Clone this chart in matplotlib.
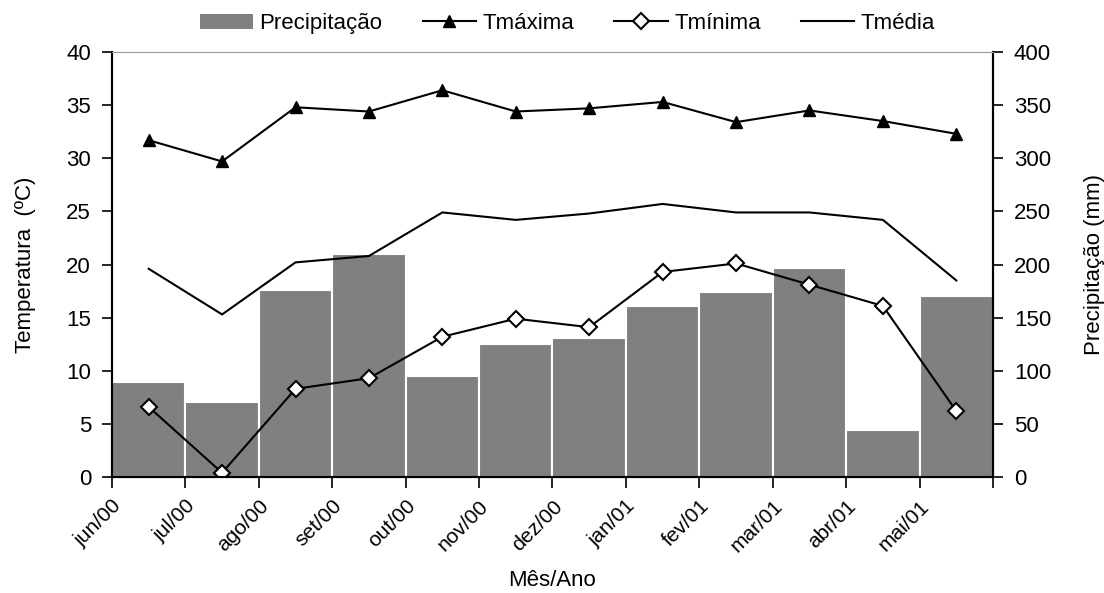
import matplotlib
matplotlib.use('Agg')
import matplotlib.pyplot as plt
from matplotlib.patches import Patch
from matplotlib.lines import Line2D

plt.rcParams['font.family'] = ['Liberation Sans', 'DejaVu Sans']

meses = ['jun/00', 'jul/00', 'ago/00', 'set/00', 'out/00', 'nov/00',
         'dez/00', 'jan/01', 'fev/01', 'mar/01', 'abr/01', 'mai/01']
precipitacao = [89, 71, 176, 210, 95, 125, 131, 161, 174, 197, 44, 170]
tmax = [31.7, 29.7, 34.8, 34.4, 36.4, 34.4, 34.7, 35.3, 33.4, 34.5, 33.5, 32.3]
tmin = [6.6, 0.4, 8.3, 9.3, 13.2, 14.9, 14.1, 19.3, 20.1, 18.1, 16.1, 6.2]
tmed = [19.6, 15.3, 20.2, 20.8, 24.9, 24.2, 24.8, 25.7, 24.9, 24.9, 24.2, 18.5]

x = [i + 0.5 for i in range(len(meses))]

fig = plt.figure(figsize=(11.04, 5.93), dpi=100)
ax = fig.add_axes([0.1014, 0.1956, 0.7981, 0.7167])
ax2 = ax.twinx()

# barras de precipitacao no eixo da direita, atras das linhas
ax2.bar(x, precipitacao, width=1.0, color='#808080', edgecolor='white', linewidth=1.5)
ax.set_zorder(ax2.get_zorder() + 1)
ax.patch.set_visible(False)

ax.plot(x, tmax, color='black', lw=1.5, marker='^', markersize=9)
ax.plot(x, tmin, color='black', lw=1.5, marker='D', markersize=8.5,
        markerfacecolor='white', markeredgecolor='black', markeredgewidth=1.5)
ax.plot(x, tmed, color='black', lw=1.5)

ax.set_xlim(0, 12)
ax.set_ylim(0, 40)
ax2.set_ylim(0, 400)
ax.set_yticks(range(0, 41, 5))
ax2.set_yticks(range(0, 401, 50))
ax.set_xticks(range(13))
ax.set_xticklabels(meses + [''], rotation=45, ha='right', rotation_mode='anchor')

for a in (ax, ax2):
    a.tick_params(labelsize=16, direction='out', length=7, width=1.2, pad=8)
    a.spines['top'].set_color('#a0a0a0')
    a.spines['left'].set_linewidth(1.5)
    a.spines['right'].set_linewidth(1.5)
    a.spines['bottom'].set_linewidth(1.5)
ax.tick_params(axis='x', length=8, labelsize=15, pad=6)

ax.set_ylabel('Temperatura  (ºC)', fontsize=16, labelpad=22)
ax2.set_ylabel('Precipitação (mm)', fontsize=16, labelpad=24)
ax.set_xlabel('Mês/Ano', fontsize=16, labelpad=10)

handles = [
    Patch(facecolor='#808080', edgecolor='none'),
    Line2D([], [], color='black', lw=1.5, marker='^', markersize=8),
    Line2D([], [], color='black', lw=1.5, marker='D', markersize=8,
           markerfacecolor='white', markeredgewidth=1.5),
    Line2D([], [], color='black', lw=1.5),
]
labels = ['Precipitação', 'Tmáxima', 'Tmínima', 'Tmédia']
fig.legend(handles, labels, loc='center', bbox_to_anchor=(0.514, 0.96), ncol=4,
           frameon=False, fontsize=16, handlelength=2.4, handletextpad=0.3,
           columnspacing=1.8)

fig.savefig('out.png', dpi=100)
